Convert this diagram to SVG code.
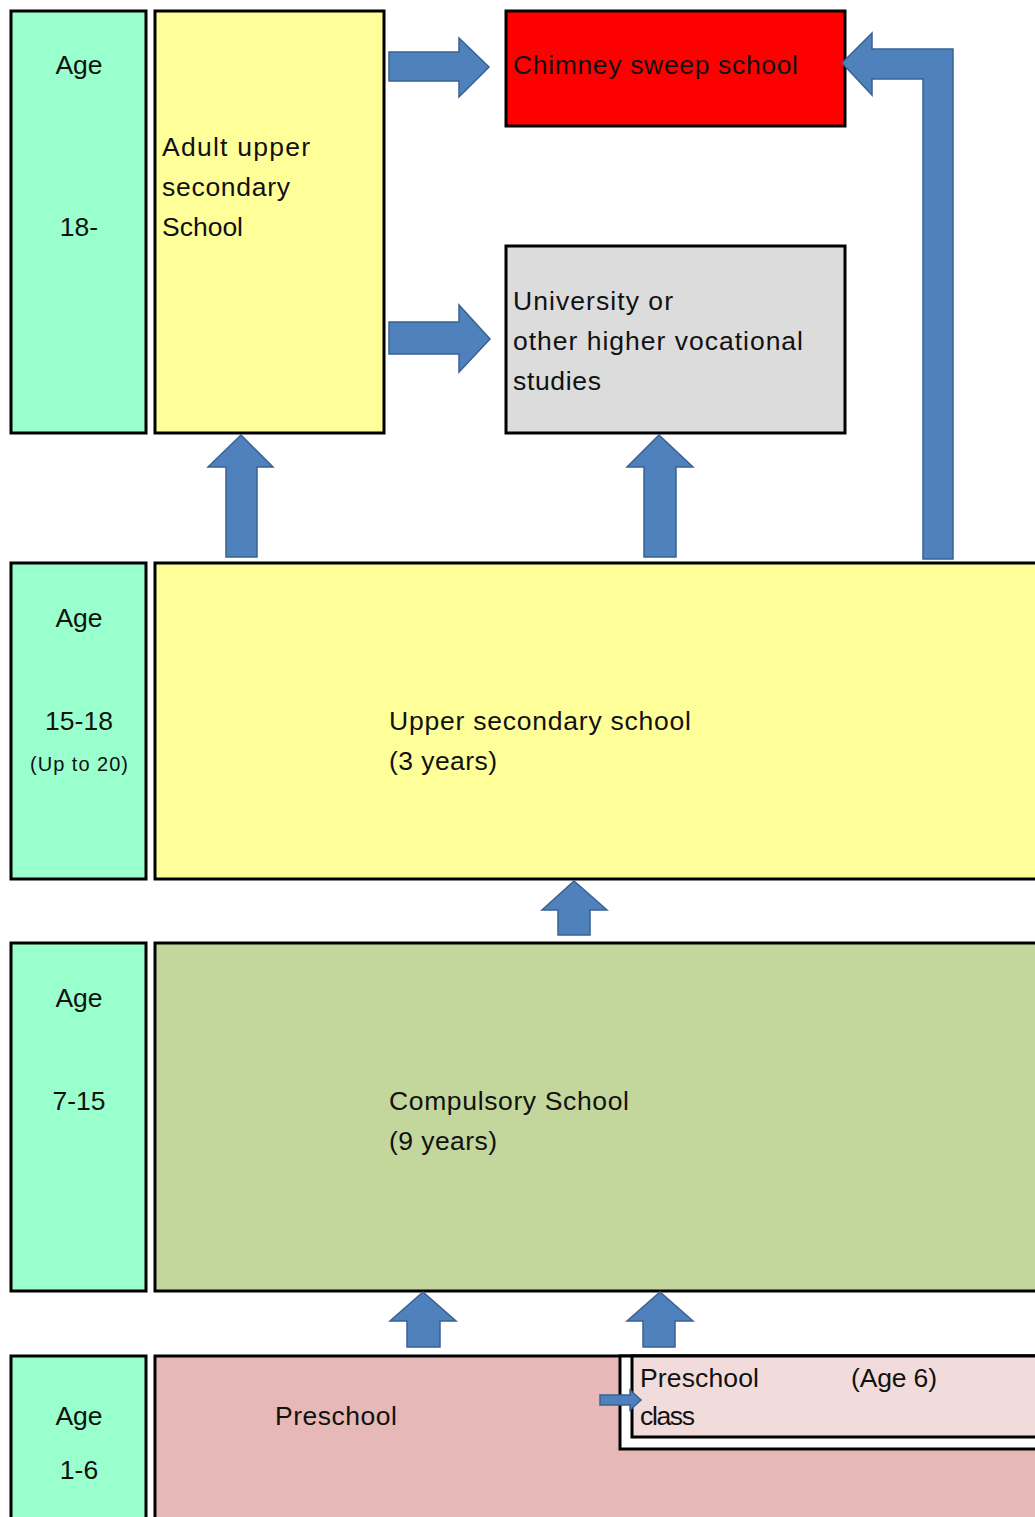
<svg xmlns="http://www.w3.org/2000/svg" width="1035" height="1517" viewBox="0 0 1035 1517">
<style>
.box{stroke:#000;stroke-width:3}
.age{fill:#99ffcc}
.t{font-family:"Liberation Sans",Arial,sans-serif;font-size:26.5px;fill:#111}
.c{text-anchor:middle}
.arr{fill:#4f81bd;stroke:#3a6192;stroke-width:1.5;stroke-linejoin:miter}
</style>
<rect width="1035" height="1517" fill="#fff"/>
<g id="age-18">
<rect class="box age" x="11" y="11" width="135" height="422"/>
<text class="t c" x="79" y="74">Age</text>
<text class="t c" x="79" y="236">18-</text>
</g>
<g id="adult-upper-secondary">
<rect class="box" x="155" y="11" width="229" height="422" fill="#ffff99"/>
<text class="t" x="162" y="156" textLength="148">Adult upper</text>
<text class="t" x="162" y="196" textLength="128">secondary</text>
<text class="t" x="162" y="236" textLength="81">School</text>
</g>
<g id="chimney-sweep">
<rect class="box" x="506" y="11" width="339" height="115" fill="#ff0000"/>
<text class="t" x="513" y="74" fill="#200" textLength="285">Chimney sweep school</text>
</g>
<g id="university">
<rect class="box" x="506" y="246" width="339" height="187" fill="#dcdcdc"/>
<text class="t" x="513" y="310" textLength="160">University or</text>
<text class="t" x="513" y="350" textLength="290">other higher vocational</text>
<text class="t" x="513" y="390" textLength="88">studies</text>
</g>
<g id="age-15-18">
<rect class="box age" x="11" y="563" width="135" height="316"/>
<text class="t c" x="79" y="627">Age</text>
<text class="t c" x="79" y="730">15-18</text>
<text class="t c" x="79" y="771" style="font-size:20px" textLength="98">(Up to 20)</text>
</g>
<g id="upper-secondary">
<rect class="box" x="155" y="563" width="890" height="316" fill="#ffff99"/>
<text class="t" x="389" y="730" textLength="302">Upper secondary school</text>
<text class="t" x="389" y="770" textLength="108">(3 years)</text>
</g>
<g id="age-7-15">
<rect class="box age" x="11" y="943" width="135" height="348"/>
<text class="t c" x="79" y="1007">Age</text>
<text class="t c" x="79" y="1110">7-15</text>
</g>
<g id="compulsory">
<rect class="box" x="155" y="943" width="890" height="348" fill="#c3d69b"/>
<text class="t" x="389" y="1110" textLength="240">Compulsory School</text>
<text class="t" x="389" y="1150" textLength="108">(9 years)</text>
</g>
<g id="age-1-6">
<rect class="box age" x="11" y="1356" width="135" height="180"/>
<text class="t c" x="79" y="1425">Age</text>
<text class="t c" x="79" y="1479">1-6</text>
</g>
<g id="preschool">
<rect class="box" x="155" y="1356" width="890" height="180" fill="#e6b8b7"/>
<text class="t" x="275" y="1425" textLength="122">Preschool</text>
</g>
<g id="preschool-class">
<rect x="620" y="1356" width="420" height="93" fill="#fff" stroke="#000" stroke-width="3"/>
<rect x="632" y="1356" width="410" height="81" fill="#f2dcdb" stroke="#000" stroke-width="3"/>
<text class="t" x="640" y="1387" textLength="119">Preschool</text>
<text class="t" x="640" y="1425" textLength="55">class</text>
<text class="t" x="851" y="1387" textLength="86">(Age 6)</text>
</g>
<g id="connectors">
<path class="arr" d="M389,52 H459 V38 L489,67 L459,97 V81 H389 Z"/>
<path class="arr" d="M389,322 H459 V305 L490,339 L459,372 V354 H389 Z"/>
<path class="arr" d="M226,557 V467 H208 L241,435 L273,467 H257 V557 Z"/>
<path class="arr" d="M644,557 V467 H627 L659,435 L693,467 H676 V557 Z"/>
<path class="arr" d="M923,559 V79 H872 V95 L842,63 L872,33 V49 H953 V559 Z"/>
<path class="arr" d="M558,935 V910 H542 L574,881 L607,910 H590 V935 Z"/>
<path class="arr" d="M407,1347 V1321 H390 L423,1292 L456,1321 H440 V1347 Z"/>
<path class="arr" d="M643,1347 V1321 H627 L660,1292 L693,1321 H675 V1347 Z"/>
<path class="arr" d="M600,1395 H630 V1390 L641,1400 L630,1410 V1405 H600 Z"/>
</g>
</svg>
